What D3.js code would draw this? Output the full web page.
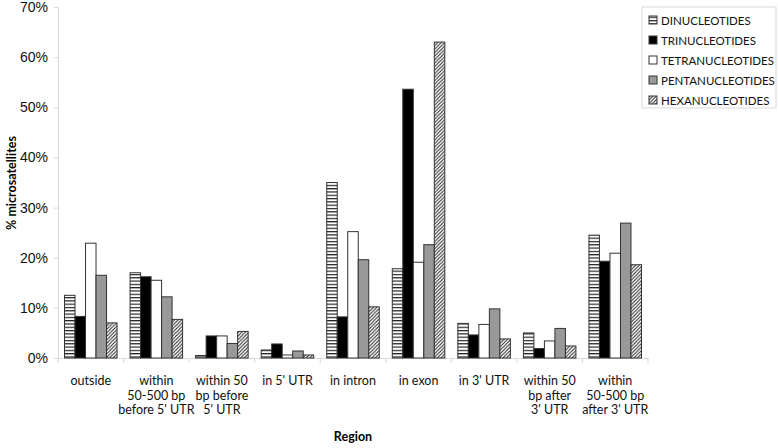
<!DOCTYPE html>
<html>
<head>
<meta charset="utf-8">
<script src="https://cdn.jsdelivr.net/npm/d3@7"></script>
<style>
  body { margin: 0; background: #fff; }
</style>
</head>
<body>
<script>
var regions = [
  ["outside"],
  ["within", "50-500 bp", "before 5' UTR"],
  ["within 50", "bp before", "5' UTR"],
  ["in 5' UTR"],
  ["in intron"],
  ["in exon"],
  ["in 3' UTR"],
  ["within 50", "bp after", "3' UTR"],
  ["within", "50-500 bp", "after 3' UTR"]
];
var seriesNames = ["DINUCLEOTIDES", "TRINUCLEOTIDES", "TETRANUCLEOTIDES", "PENTANUCLEOTIDES", "HEXANUCLEOTIDES"];
var di    = [12.5, 17.0, 0.5, 1.6, 35.0, 17.8, 6.9, 5.0, 24.5];
var tri   = [8.3, 16.2, 4.4, 2.8, 8.2, 53.6, 4.6, 1.9, 19.3];
var tetra = [22.9, 15.5, 4.4, 0.6, 25.2, 19.1, 6.7, 3.4, 20.9];
var penta = [16.5, 12.2, 2.9, 1.4, 19.6, 22.6, 9.8, 5.9, 26.9];
var hexa  = [7.0, 7.7, 5.3, 0.6, 10.2, 63.0, 3.8, 2.4, 18.6];
var yTicks = [0, 10, 20, 30, 40, 50, 60, 70];

var series = [di, tri, tetra, penta, hexa];
var fills = ["url(#stripes)", "#000", "#fff", "#999", "url(#hatch)"];

var width = 778, height = 448;
var plotLeft = 58, plotRight = 648, plotTop = 7, plotBottom = 358;

var svg = d3.select("body").append("svg")
            .attr("width", width)
            .attr("height", height);

var defs = svg.append("defs");
var stripes = defs.append("pattern")
                  .attr("id", "stripes")
                  .attr("patternUnits", "userSpaceOnUse")
                  .attr("width", 6).attr("height", 3.3);
stripes.append("rect").attr("width", 6).attr("height", 3.3).attr("fill", "#fff");
stripes.append("rect").attr("y", 0).attr("width", 6).attr("height", 1.2).attr("fill", "#222");

var hatch = defs.append("pattern")
                .attr("id", "hatch")
                .attr("patternUnits", "userSpaceOnUse")
                .attr("width", 3.5).attr("height", 3.5);
hatch.append("rect").attr("width", 3.5).attr("height", 3.5).attr("fill", "#fff");
hatch.append("path")
     .attr("d", "M-1,1 L1,-1 M0,3.5 L3.5,0 M2.5,4.5 L4.5,2.5")
     .attr("stroke", "#222").attr("stroke-width", 1);

var x = d3.scaleBand()
          .domain(d3.range(regions.length))
          .range([plotLeft, plotRight]);

var x1 = d3.scaleBand()
           .domain(d3.range(seriesNames.length))
           .range([0, x.bandwidth()])
           .paddingOuter(0.62);

var y = d3.scaleLinear()
          .domain([0, 70])
          .range([plotBottom, plotTop]);

// y axis
var yAxis = svg.append("g")
               .attr("transform", "translate(" + plotLeft + ",0)")
               .call(d3.axisLeft(y).tickValues(yTicks).tickSize(4).tickPadding(6)
                       .tickFormat(function(d){ return d + "%"; }));
yAxis.select(".domain").attr("stroke", "#d9d9d9");
yAxis.selectAll(".tick line").attr("stroke", "#d9d9d9");
yAxis.selectAll("text")
     .attr("font-family", "Liberation Sans, Arial, sans-serif")
     .attr("font-size", 14)
     .attr("fill", "#111");

// x baseline and category ticks
var xAxis = svg.append("g")
               .attr("transform", "translate(0," + plotBottom + ")")
               .call(d3.axisBottom(x).tickSize(0).tickFormat(""));
xAxis.select(".domain").attr("stroke", "#d9d9d9");
xAxis.selectAll(".sep")
     .data(d3.range(regions.length + 1))
     .enter().append("line")
     .attr("class", "sep")
     .attr("x1", function(d){ return plotLeft + d * x.bandwidth(); })
     .attr("x2", function(d){ return plotLeft + d * x.bandwidth(); })
     .attr("y1", 0).attr("y2", 5)
     .attr("stroke", "#d9d9d9");

// bars
var groups = svg.selectAll(".region")
                .data(regions)
                .enter().append("g")
                .attr("class", "region")
                .attr("transform", function(d, i){ return "translate(" + x(i) + ",0)"; });

groups.selectAll("rect")
      .data(function(d, i){ return series.map(function(s, k){ return {k: k, v: s[i]}; }); })
      .enter().append("rect")
      .attr("x", function(d){ return x1(d.k); })
      .attr("width", x1.bandwidth())
      .attr("y", function(d){ return y(d.v); })
      .attr("height", function(d){ return plotBottom - y(d.v); })
      .attr("fill", function(d){ return fills[d.k]; })
      .attr("stroke", "#333")
      .attr("stroke-width", 1);

// category labels
var labels = groups.append("text")
                   .attr("text-anchor", "middle")
                   .attr("font-family", "Lato, sans-serif")
                   .attr("font-size", 12.5)
                   .attr("fill", "#111");
labels.selectAll("tspan")
      .data(function(d){ return d; })
      .enter().append("tspan")
      .attr("x", x.bandwidth() / 2)
      .attr("y", function(d, i){ return 385 + i * 14.5; })
      .text(function(d){ return d; });

// axis titles
svg.append("text")
   .attr("transform", "translate(16," + 183 + ") rotate(-90)")
   .attr("text-anchor", "middle")
   .attr("font-family", "Lato, sans-serif")
   .attr("font-weight", "bold")
   .attr("font-size", 12.5)
   .text("% microsatellites");

svg.append("text")
   .attr("x", 353).attr("y", 441)
   .attr("text-anchor", "middle")
   .attr("font-family", "Lato, sans-serif")
   .attr("font-weight", "bold")
   .attr("font-size", 12.5)
   .text("Region");

// legend
var legend = svg.append("g").attr("transform", "translate(642,7)");
legend.append("rect")
      .attr("width", 134).attr("height", 101)
      .attr("fill", "#fff")
      .attr("stroke", "#d9d9d9");
var items = legend.selectAll(".item")
                  .data(seriesNames)
                  .enter().append("g")
                  .attr("class", "item")
                  .attr("transform", function(d, i){ return "translate(7," + (13 + i * 20) + ")"; });
items.append("rect")
     .attr("x", 0).attr("y", -4)
     .attr("width", 8).attr("height", 8)
     .attr("fill", function(d, i){ return fills[i]; })
     .attr("stroke", "#333");
items.append("text")
     .attr("x", 12).attr("y", 4.5)
     .attr("font-family", "Lato, sans-serif")
     .attr("font-size", 11.5)
     .attr("fill", "#111")
     .text(function(d){ return d; });
</script>
</body>
</html>
